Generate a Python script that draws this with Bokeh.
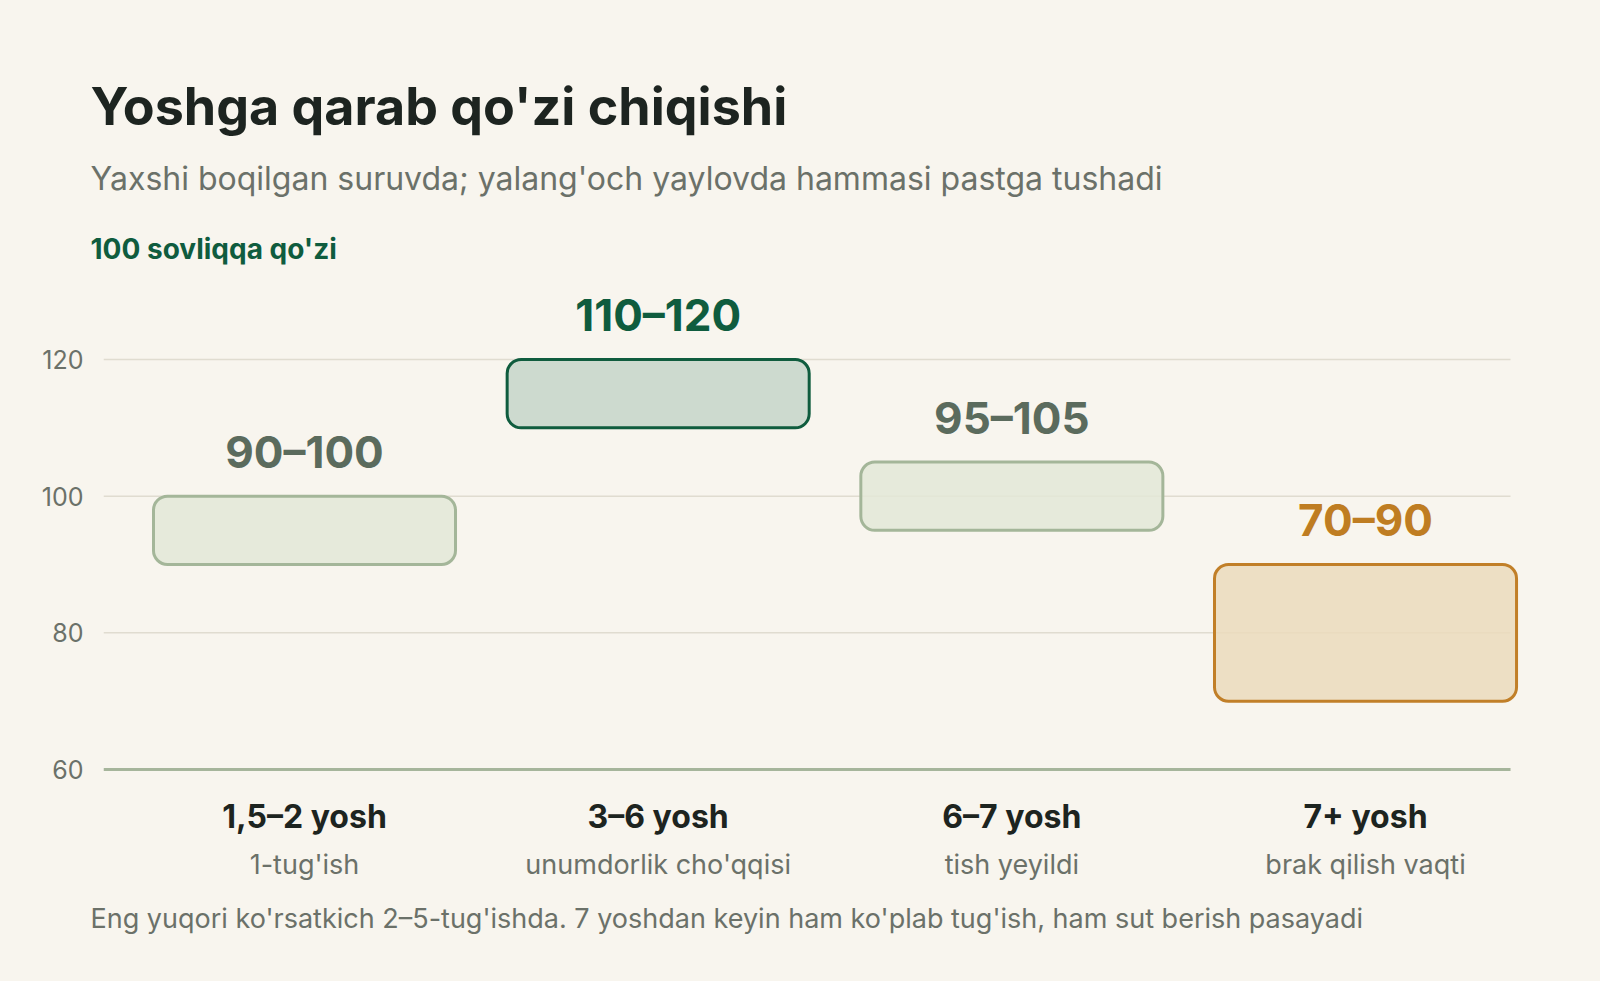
from bokeh.plotting import figure
from bokeh.models import Range1d, FixedTicker, LinearAxis, Title, ColumnDataSource
from bokeh.core.properties import value
from bokeh.embed import file_html
from bokeh.resources import INLINE

# ---- data ----
categories = ["1,5–2 yosh", "3–6 yosh", "6–7 yosh", "7+ yosh"]
sublabels = ["1-tug'ish", "unumdorlik cho'qqisi", "tish yeyildi", "brak qilish vaqti"]
low = [90, 110, 95, 70]
high = [100, 120, 105, 90]
y_ticks = [60, 80, 100, 120]

title_text = "Yoshga qarab qo'zi chiqishi"
subtitle_text = "Yaxshi boqilgan suruvda; yalang'och yaylovda hammasi pastga tushadi"
unit_text = "100 sovliqqa qo'zi"
footer_text = ("Eng yuqori ko'rsatkich 2–5-tug'ishda. 7 yoshdan keyin ham ko'plab "
               "tug'ish, ham sut berish pasayadi")

# ---- styles ----
BG = "#f8f5ee"
INK = "#1d2420"
GREY = "#6b7169"
GREEN = "#0f5c3e"
fills = ["#e3e7d7", "#c5d5c9", "#e3e7d7", "#ebdabc"]
strokes = ["#a4b699", GREEN, "#a4b699", "#c17f28"]
label_colors = ["#5b6b5d", GREEN, "#5b6b5d", "#bf7d22"]
FONT = "Inter"

n = len(categories)
xs = [i + 0.5 for i in range(n)]
box_w = 0.854
labels = [f"{lo}–{hi}" for lo, hi in zip(low, high)]

src = ColumnDataSource(dict(
    x=xs, left=[x - box_w / 2 for x in xs], right=[x + box_w / 2 for x in xs],
    low=low, high=high, fill=fills, stroke=strokes, lab=labels, labc=label_colors,
))

p = figure(width=1584, height=965, output_backend="svg", toolbar_location=None,
           title=None,
           x_range=Range1d(-0.0683, 4.0004), y_range=Range1d(59.122, 131.56),
           min_border_left=103, min_border_right=42, min_border_top=280,
           min_border_bottom=190)
p.background_fill_color = BG
p.border_fill_color = BG
p.outline_line_color = None
p.xgrid.visible = False
p.ygrid.visible = False

# y axis
ya = p.yaxis[0]
ya.ticker = FixedTicker(ticks=y_ticks)
ya.axis_line_color = None
ya.major_tick_line_color = None
ya.minor_tick_line_color = None
ya.major_tick_out = 0
ya.major_tick_in = 0
ya.major_label_text_font = FONT
ya.major_label_text_font_size = "25px"
ya.major_label_text_color = GREY
ya.major_label_standoff = 20

# x axis: main labels
xa = p.xaxis[0]
xa.ticker = FixedTicker(ticks=xs)
xa.major_label_overrides = {x: c for x, c in zip(xs, categories)}
xa.axis_line_color = None
xa.major_tick_line_color = None
xa.minor_tick_line_color = None
xa.major_tick_out = 0
xa.major_tick_in = 0
xa.major_label_text_font = FONT
xa.major_label_text_font_size = "32px"
xa.major_label_text_font_style = "bold"
xa.major_label_text_color = INK
xa.major_label_standoff = 21

# x axis: sub labels
xb = LinearAxis(ticker=FixedTicker(ticks=xs),
                major_label_overrides={x: s for x, s in zip(xs, sublabels)})
xb.axis_line_color = None
xb.major_tick_line_color = None
xb.minor_tick_line_color = None
xb.major_tick_out = 0
xb.major_tick_in = 0
xb.major_label_text_font = FONT
xb.major_label_text_font_size = "27px"
xb.major_label_text_color = GREY
xb.major_label_standoff = 9
p.add_layout(xb, "below")

# grid lines (drawn as segments to limit their extent)
grid_x0, grid_x1 = -0.0683, 3.910
gy = [t for t in y_ticks if t != y_ticks[0]]
p.segment(x0=[grid_x0] * len(gy), x1=[grid_x1] * len(gy), y0=gy, y1=gy,
          line_color="#e0dcd0", line_width=1.5)
p.segment(x0=[grid_x0], x1=[grid_x1], y0=[y_ticks[0]], y1=[y_ticks[0]],
          line_color="#a6b59b", line_width=3)

# range boxes
p.quad(left="left", right="right", bottom="low", top="high", source=src,
       fill_color="fill", fill_alpha=0.85, line_color="stroke", line_width=3,
       border_radius=14)

# value labels
p.text(x="x", y="high", text="lab", source=src, text_color="labc",
       text_font=value(FONT), text_font_size="44px", text_font_style="bold",
       text_align="center", text_baseline="alphabetic", y_offset=-44)

# titles: innermost first
def add_title(txt, size, color, style, standoff, loc="above"):
    p.add_layout(Title(text=txt, align="left", offset=-13, text_font=FONT,
                       text_font_size=size, text_color=color,
                       text_font_style=style, standoff=standoff), loc)

add_title(unit_text, "28px", GREEN, "bold", 29)
add_title(subtitle_text, "32px", GREY, "normal", 35)
add_title(title_text, "52px", INK, "bold", 4)
add_title(footer_text, "27px", GREY, "normal", 33, "below")

html = file_html(p, INLINE)
css = f"<style>html, body {{ background: {BG}; }}</style>"
html = html.replace("</head>", css + "</head>", 1)
open("out.html", "w").write(html)
